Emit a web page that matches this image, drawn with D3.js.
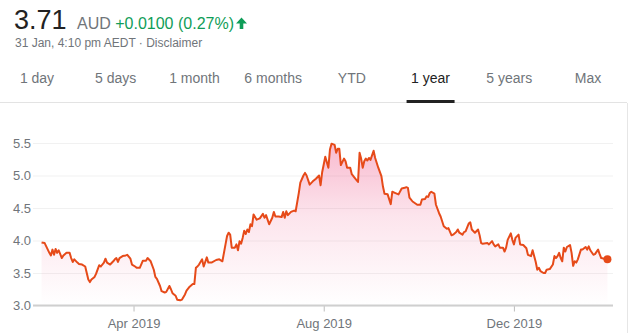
<!DOCTYPE html>
<html>
<head>
<meta charset="utf-8">
<script src="https://cdn.jsdelivr.net/npm/d3@7"></script>
<style>
  body { margin: 0; background: #fff; }
  svg { display: block; font-family: "Liberation Sans", Arial, sans-serif; }
</style>
</head>
<body>
<svg id="chart"></svg>
<script>
// Price data
const dates = [
  '2019-02-01','2019-02-03','2019-02-04','2019-02-06','2019-02-07','2019-02-08','2019-02-09','2019-02-10','2019-02-11','2019-02-12',
  '2019-02-14','2019-02-15','2019-02-17','2019-02-19','2019-02-20','2019-02-21','2019-02-22','2019-02-24','2019-02-25','2019-02-27',
  '2019-03-01','2019-03-02','2019-03-03','2019-03-04','2019-03-05','2019-03-07','2019-03-08','2019-03-10','2019-03-11','2019-03-13',
  '2019-03-14','2019-03-15','2019-03-17','2019-03-19','2019-03-20','2019-03-21','2019-03-22','2019-03-23','2019-03-25','2019-03-27',
  '2019-03-28','2019-03-30','2019-03-31','2019-04-02','2019-04-03','2019-04-05','2019-04-07','2019-04-09','2019-04-10','2019-04-12',
  '2019-04-14','2019-04-15','2019-04-16','2019-04-18','2019-04-19','2019-04-21','2019-04-22','2019-04-24','2019-04-25','2019-04-26',
  '2019-04-28','2019-04-29','2019-05-01','2019-05-02','2019-05-04','2019-05-05','2019-05-07','2019-05-09','2019-05-10','2019-05-11',
  '2019-05-12','2019-05-13','2019-05-15','2019-05-16','2019-05-18','2019-05-19','2019-05-21','2019-05-24','2019-05-26','2019-05-28',
  '2019-05-30','2019-05-31','2019-06-01','2019-06-02','2019-06-03','2019-06-05','2019-06-06','2019-06-07','2019-06-08','2019-06-09',
  '2019-06-10','2019-06-11','2019-06-12','2019-06-13','2019-06-14','2019-06-15','2019-06-16','2019-06-17','2019-06-19','2019-06-21',
  '2019-06-23','2019-06-24','2019-06-25','2019-06-27','2019-06-29','2019-06-30','2019-07-01','2019-07-03','2019-07-05','2019-07-06',
  '2019-07-07','2019-07-08','2019-07-09','2019-07-11','2019-07-13','2019-07-14','2019-07-16','2019-07-17','2019-07-19','2019-07-20',
  '2019-07-21','2019-07-23','2019-07-25','2019-07-27','2019-07-29','2019-07-30','2019-07-31','2019-08-01','2019-08-02','2019-08-04',
  '2019-08-05','2019-08-06','2019-08-08','2019-08-09','2019-08-10','2019-08-11','2019-08-12','2019-08-14','2019-08-15','2019-08-16',
  '2019-08-18','2019-08-19','2019-08-21','2019-08-23','2019-08-24','2019-08-25','2019-08-26','2019-08-27','2019-08-28','2019-08-29',
  '2019-08-30','2019-08-31','2019-09-02','2019-09-03','2019-09-05','2019-09-07','2019-09-08','2019-09-09','2019-09-11','2019-09-13',
  '2019-09-14','2019-09-16','2019-09-18','2019-09-20','2019-09-22','2019-09-23','2019-09-24','2019-09-25','2019-09-27','2019-09-30',
  '2019-10-02','2019-10-03','2019-10-05','2019-10-06','2019-10-07','2019-10-08','2019-10-09','2019-10-11','2019-10-12','2019-10-14',
  '2019-10-15','2019-10-17','2019-10-19','2019-10-20','2019-10-22','2019-10-23','2019-10-25','2019-10-26','2019-10-27','2019-10-29',
  '2019-10-30','2019-10-31','2019-11-02','2019-11-03','2019-11-04','2019-11-06','2019-11-08','2019-11-09','2019-11-10','2019-11-11',
  '2019-11-14','2019-11-15','2019-11-17','2019-11-18','2019-11-19','2019-11-21','2019-11-22','2019-11-24','2019-11-25','2019-11-26',
  '2019-11-27','2019-11-29','2019-11-30','2019-12-01','2019-12-02','2019-12-04','2019-12-05','2019-12-07','2019-12-09','2019-12-10',
  '2019-12-12','2019-12-13','2019-12-15','2019-12-16','2019-12-17','2019-12-18','2019-12-20','2019-12-21','2019-12-22','2019-12-24',
  '2019-12-26','2019-12-27','2019-12-28','2019-12-29','2019-12-30','2019-12-31','2020-01-01','2020-01-02','2020-01-03','2020-01-04',
  '2020-01-06','2020-01-07','2020-01-08','2020-01-09','2020-01-10','2020-01-11','2020-01-13','2020-01-14','2020-01-16','2020-01-17',
  '2020-01-18','2020-01-19','2020-01-21','2020-01-22','2020-01-24','2020-01-25','2020-01-26','2020-01-28','2020-01-30'
];
const prices = [
  3.97,3.96,3.91,3.81,3.77,3.86,3.78,3.87,3.81,3.85,
  3.73,3.77,3.81,3.81,3.73,3.67,3.71,3.66,3.64,3.63,
  3.60,3.50,3.40,3.36,3.40,3.44,3.49,3.62,3.60,3.66,
  3.72,3.66,3.63,3.68,3.71,3.73,3.67,3.73,3.76,3.77,
  3.78,3.72,3.63,3.60,3.58,3.58,3.69,3.69,3.73,3.68,
  3.55,3.44,3.41,3.30,3.22,3.20,3.21,3.30,3.25,3.19,
  3.15,3.09,3.08,3.09,3.17,3.23,3.29,3.33,3.33,3.58,
  3.60,3.63,3.71,3.60,3.74,3.66,3.66,3.70,3.71,3.68,
  3.94,4.07,4.12,4.09,3.89,3.89,3.94,3.85,3.99,3.95,
  4.04,4.15,4.10,4.17,4.13,4.25,4.22,4.40,4.32,4.34,
  4.41,4.35,4.39,4.25,4.35,4.44,4.37,4.37,4.36,4.44,
  4.35,4.45,4.39,4.44,4.46,4.45,4.73,4.89,5.00,5.04,
  5.00,4.86,4.91,4.95,5.00,4.85,5.05,5.17,5.29,5.12,
  5.40,5.49,5.47,5.35,5.41,5.41,5.16,5.26,5.22,5.12,
  5.12,5.02,4.96,4.90,5.35,5.26,5.12,5.22,5.26,5.23,
  5.27,5.24,5.38,5.27,5.12,4.99,4.83,4.72,4.71,4.56,
  4.75,4.73,4.71,4.80,4.81,4.82,4.81,4.66,4.60,4.55,
  4.55,4.63,4.64,4.68,4.67,4.73,4.75,4.72,4.55,4.42,
  4.37,4.22,4.18,4.19,4.08,4.09,4.13,4.17,4.12,4.09,
  4.13,4.14,4.26,4.28,4.17,4.12,4.17,4.08,3.96,3.95,
  3.96,3.94,3.99,3.94,3.91,3.94,3.89,3.89,3.83,3.89,
  4.01,4.11,4.01,3.94,4.04,4.09,3.94,3.93,3.88,3.78,
  3.76,3.85,3.67,3.55,3.58,3.53,3.50,3.50,3.55,3.56,
  3.63,3.76,3.73,3.76,3.81,3.73,3.68,3.89,3.83,3.90,
  3.93,3.81,3.61,3.68,3.66,3.71,3.86,3.86,3.90,3.86,
  3.91,3.85,3.78,3.79,3.86,3.79,3.73,3.72,3.71
];
const yTicks = [3.0, 3.5, 4.0, 4.5, 5.0, 5.5];
const xTickDates = ['2019-04-01', '2019-08-01', '2019-12-01'];
const tabs = ['1 day', '5 days', '1 month', '6 months', 'YTD', '1 year', '5 years', 'Max'];
const activeTab = '1 year';

const width = 631;
const height = 333;
const parse = d3.timeParse('%Y-%m-%d');
const data = dates.map((d, i) => ({ date: parse(d), value: prices[i] }));

const svg = d3.select('svg#chart')
  .attr('width', width)
  .attr('height', height);

// Header: price and change
svg.append('text')
  .attr('x', 14).attr('y', 29)
  .style('font-size', '27px').attr('fill', '#222')
  .text('3.71');

const change = svg.append('text')
  .attr('x', 77).attr('y', 29)
  .style('font-size', '16px');
change.append('tspan').attr('fill', '#70757a').text('AUD ');
change.append('tspan').attr('fill', '#0f9d58').text('+0.0100 (0.27%)');

// up arrow
svg.append('path')
  .attr('d', 'M241.5,17.5 L247,23.5 L243.3,23.5 L243.3,29 L239.7,29 L239.7,23.5 L236,23.5 Z')
  .attr('fill', '#0f9d58');

svg.append('text')
  .attr('x', 15).attr('y', 47)
  .style('font-size', '12px').attr('fill', '#70757a')
  .text('31 Jan, 4:10 pm AEDT \u00b7 Disclaimer');

// Range tabs
const tabX = d3.scalePoint().domain(tabs).range([37, 588]);
svg.selectAll('.tab')
  .data(tabs)
  .enter()
  .append('text')
  .attr('class', 'tab')
  .attr('x', d => tabX(d))
  .attr('y', 83)
  .attr('text-anchor', 'middle')
  .style('font-size', '14px')
  .attr('fill', d => d === activeTab ? '#222' : '#70757a')
  .text(d => d);

svg.append('line')
  .attr('x1', 0).attr('x2', 627)
  .attr('y1', 102.5).attr('y2', 102.5)
  .attr('stroke', '#e3e3e3');

svg.append('rect')
  .attr('x', tabX(activeTab) - 24).attr('y', 100)
  .attr('width', 48).attr('height', 3)
  .attr('fill', '#222');

svg.append('line')
  .attr('x1', 627.5).attr('x2', 627.5)
  .attr('y1', 103).attr('y2', height)
  .attr('stroke', '#e6e6e6');

// Scales
const plotLeft = 33;
const plotRight = 613;
const xScale = d3.scaleTime()
  .domain([parse('2019-01-31'), parse('2020-01-31')])
  .range([40, 609]);
const yScale = d3.scaleLinear()
  .domain([3.0, 5.5])
  .range([305.5, 143]);

// Gridlines and y labels
const yAxis = d3.axisLeft(yScale)
  .tickValues(yTicks)
  .tickSize(-(plotRight - plotLeft))
  .tickPadding(2)
  .tickFormat(d3.format('.1f'));

const yG = svg.append('g')
  .attr('transform', `translate(${plotLeft},0)`)
  .call(yAxis);
yG.select('.domain').remove();
yG.selectAll('.tick line').attr('stroke', '#f1f1f1');
yG.selectAll('.tick text')
  .attr('fill', '#70757a')
  .style('font-size', '13px')
  .style('font-family', '"Liberation Sans", Arial, sans-serif');

// Gradient fill, fades out quickly towards the baseline
const grad = svg.append('defs').append('linearGradient')
  .attr('id', 'fillGrad')
  .attr('gradientUnits', 'userSpaceOnUse')
  .attr('x1', 0).attr('x2', 0)
  .attr('y1', yScale(5.5)).attr('y2', yScale(3.0));
grad.append('stop').attr('offset', '0%').attr('stop-color', '#ec407a').attr('stop-opacity', 0.36);
grad.append('stop').attr('offset', '45%').attr('stop-color', '#ec407a').attr('stop-opacity', 0.14);
grad.append('stop').attr('offset', '100%').attr('stop-color', '#ec407a').attr('stop-opacity', 0);

const area = d3.area()
  .x(d => xScale(d.date))
  .y0(yScale(3.0))
  .y1(d => yScale(d.value));

svg.append('path')
  .datum(data)
  .attr('d', area)
  .attr('fill', 'url(#fillGrad)');

// X axis
const xAxis = d3.axisBottom(xScale)
  .tickValues(xTickDates.map(parse))
  .tickSize(6)
  .tickPadding(7)
  .tickFormat(d3.timeFormat('%b %Y'));

const xG = svg.append('g')
  .attr('transform', `translate(0,${yScale(3.0)})`)
  .call(xAxis);
xG.select('.domain').remove();
xG.selectAll('.tick line').attr('stroke', '#bdbdbd');
xG.selectAll('.tick text')
  .attr('fill', '#70757a')
  .style('font-size', '13px')
  .style('font-family', '"Liberation Sans", Arial, sans-serif');

svg.append('line')
  .attr('x1', plotLeft).attr('x2', plotRight)
  .attr('y1', yScale(3.0)).attr('y2', yScale(3.0))
  .attr('stroke', '#cfcfcf')
  .attr('stroke-width', 2);

// Price line
const line = d3.line()
  .x(d => xScale(d.date))
  .y(d => yScale(d.value));

svg.append('path')
  .datum(data)
  .attr('d', line)
  .attr('fill', 'none')
  .attr('stroke', '#e64a19')
  .attr('stroke-width', 2)
  .attr('stroke-linejoin', 'round');

// Last price dot
const last = data[data.length - 1];
svg.append('circle')
  .attr('cx', xScale(last.date))
  .attr('cy', yScale(last.value))
  .attr('r', 4)
  .attr('fill', '#e64a19');
</script>
</body>
</html>
